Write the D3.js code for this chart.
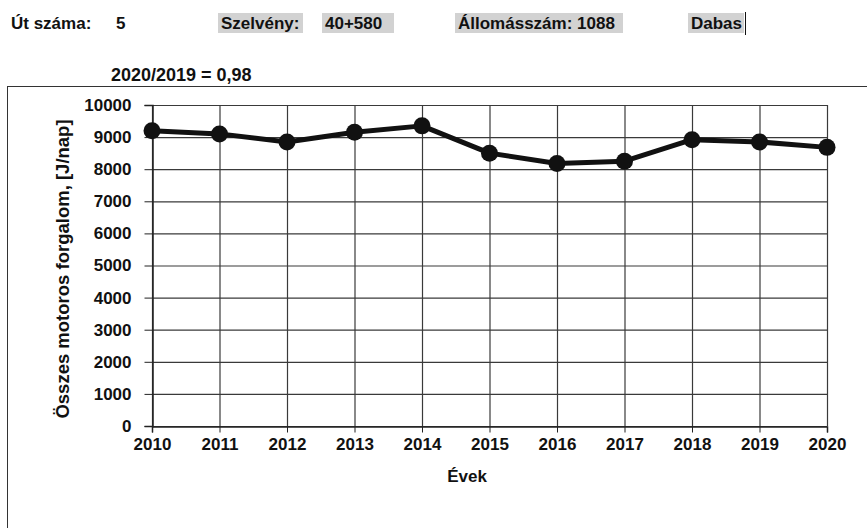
<!DOCTYPE html>
<html>
<head>
<meta charset="utf-8">
<script src="https://cdn.jsdelivr.net/npm/d3@7"></script>
<style>
  html, body { margin: 0; padding: 0; background: #fff; }
  svg { display: block; }
  text { font-family: "Liberation Sans", Arial, sans-serif; font-weight: bold; fill: #111; }
</style>
</head>
<body>
<svg id="chart" width="867" height="528"></svg>
<script>
// Annual traffic counts, station 1088
const years = ["2010","2011","2012","2013","2014","2015","2016","2017","2018","2019","2020"];
const traffic = [9200, 9100, 8850, 9150, 9350, 8500, 8180, 8250, 8920, 8850, 8680];
const yTicks = [0,1000,2000,3000,4000,5000,6000,7000,8000,9000,10000];

// Header fields
const headerPlain = [
  { text: "Út száma:", x: 11 },
  { text: "5", x: 116 }
];
const headerBoxed = [
  { text: "Szelvény:", x: 218, w: 85 },
  { text: "40+580", x: 322, w: 72 },
  { text: "Állomásszám: 1088", x: 455, w: 168 },
  { text: "Dabas", x: 688, w: 56 }
];
const ratioLabel = "2020/2019 = 0,98";
const yTitle = "Összes motoros forgalom, [J/nap]";
const xTitle = "Évek";

const FS = 17;
const svg = d3.select("#chart");

// Header row
headerBoxed.forEach(h => {
  svg.append("rect").attr("x", h.x).attr("y", 13).attr("width", h.w).attr("height", 20)
    .attr("fill", "#d2d2d2");
  svg.append("text").attr("x", h.x + 3).attr("y", 29).attr("font-size", FS).text(h.text);
});
headerPlain.forEach(h => {
  svg.append("text").attr("x", h.x).attr("y", 29).attr("font-size", FS).text(h.text);
});
// text cursor after the city name
const cur = headerBoxed[3];
svg.append("line").attr("x1", cur.x + cur.w + 1.5).attr("x2", cur.x + cur.w + 1.5)
  .attr("y1", 12).attr("y2", 35).attr("stroke", "#111").attr("stroke-width", 1);

svg.append("text").attr("x", 111).attr("y", 81).attr("font-size", 18).text(ratioLabel);

// Chart frame
svg.append("rect").attr("x", 7.5).attr("y", 86.5).attr("width", 900).attr("height", 500)
  .attr("fill", "none").attr("stroke", "#333").attr("stroke-width", 1);

// Plot area
const plotL = 152, plotR = 827, plotT = 105, plotB = 426;
const x = d3.scalePoint().domain(years).range([plotL, plotR]);
const y = d3.scaleLinear().domain([0, 10000]).range([plotB, plotT]);

const g = svg.append("g");

// horizontal gridlines
g.selectAll(".hgrid").data(yTicks).join("line")
  .attr("x1", plotL).attr("x2", plotR)
  .attr("y1", d => y(d) + 0.5).attr("y2", d => y(d) + 0.5)
  .attr("stroke", "#3a3a3a").attr("stroke-width", 1.2);
// vertical gridlines
g.selectAll(".vgrid").data(years).join("line")
  .attr("x1", d => x(d) + 0.5).attr("x2", d => x(d) + 0.5)
  .attr("y1", plotT).attr("y2", plotB)
  .attr("stroke", "#3a3a3a").attr("stroke-width", 1.2);

// Y axis
const yAxis = d3.axisLeft(y).tickValues(yTicks).tickSize(8).tickPadding(13).tickFormat(d3.format("d"));
const ya = svg.append("g").attr("transform", `translate(${plotL + 0.5},0)`).call(yAxis);
ya.select(".domain").attr("stroke", "#222").attr("stroke-width", 1.5);
ya.selectAll(".tick line").attr("stroke", "#222");
ya.selectAll(".tick text").attr("font-size", FS).attr("font-weight", "bold")
  .attr("font-family", "Liberation Sans, Arial, sans-serif").attr("fill", "#111");

// X axis
const xAxis = d3.axisBottom(x).tickSize(6).tickPadding(5);
const xa = svg.append("g").attr("transform", `translate(0,${plotB + 0.5})`).call(xAxis);
xa.select(".domain").attr("stroke", "#222").attr("stroke-width", 1.5);
xa.selectAll(".tick line").attr("stroke", "#222");
xa.selectAll(".tick text").attr("font-size", FS).attr("font-weight", "bold")
  .attr("font-family", "Liberation Sans, Arial, sans-serif").attr("fill", "#111");

// Axis titles
svg.append("text").attr("transform", `translate(69,269) rotate(-90)`)
  .attr("text-anchor", "middle").attr("font-size", 18.5).text(yTitle);
svg.append("text").attr("x", 467).attr("y", 482).attr("text-anchor", "middle")
  .attr("font-size", FS).text(xTitle);

// Series line and markers
const pts = years.map((yr, i) => ({ yr, v: traffic[i] }));
svg.append("path").datum(pts)
  .attr("fill", "none").attr("stroke", "#111").attr("stroke-width", 5)
  .attr("stroke-linejoin", "round")
  .attr("d", d3.line().x(d => x(d.yr)).y(d => y(d.v)));
svg.selectAll(".pt").data(pts).join("circle")
  .attr("cx", d => x(d.yr)).attr("cy", d => y(d.v)).attr("r", 8.5)
  .attr("fill", "#111");
</script>
</body>
</html>
